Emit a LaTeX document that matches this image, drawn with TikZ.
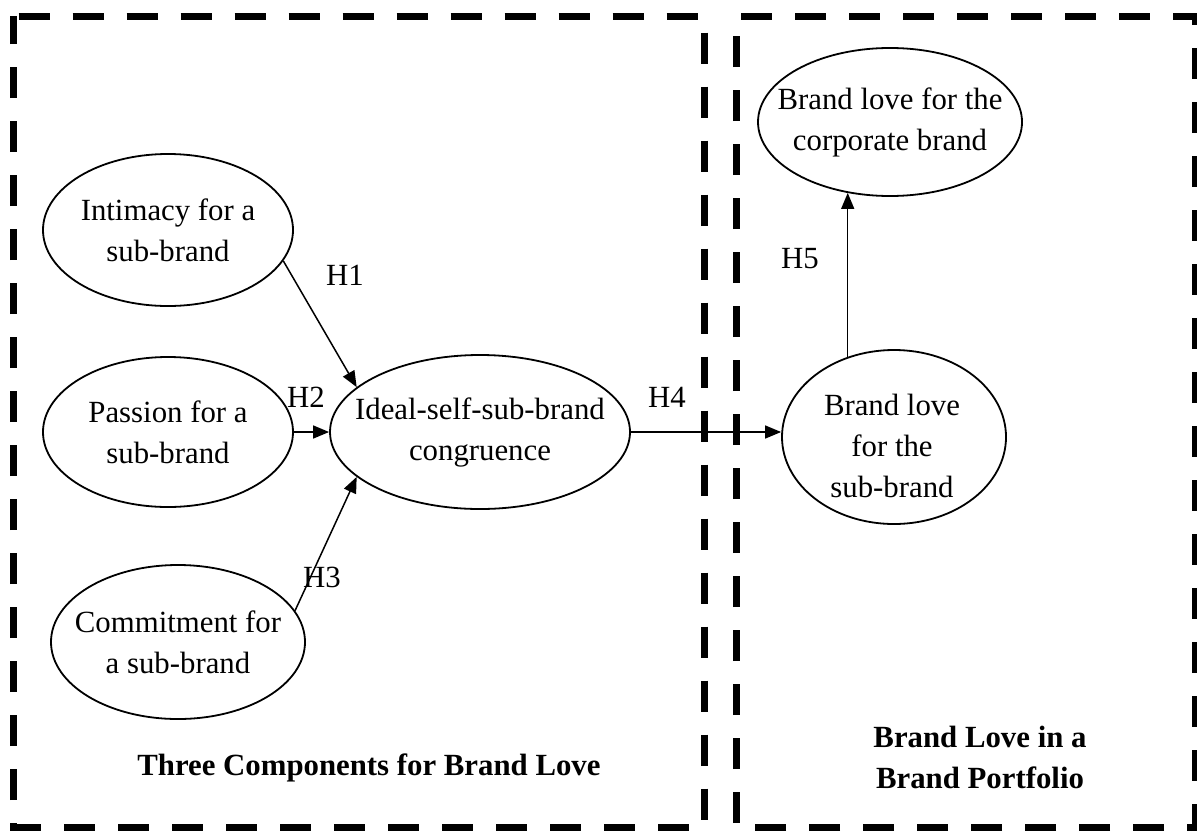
\documentclass[tikz,border=0pt]{standalone}
\usepackage{fontspec}
\setmainfont{Liberation Serif}
\usetikzlibrary{arrows.meta,shapes.geometric}

\begin{document}
\begin{tikzpicture}[
    x=0.5pt, y=-0.5pt,
    >={Triangle[length=8pt,width=6.5pt]},
    bubble/.style={
        ellipse,
        draw,
        line width=0.9pt,
        inner sep=0pt
    },
    bubble text/.style={
        font=\fontsize{15.4}{20.5}\selectfont,
        align=center,
        inner sep=0pt
    },
    hyp/.style={
        font=\fontsize{15.4}{18}\selectfont,
        inner sep=0pt
    },
    panel/.style={
        line width=3.5pt,
        dash pattern=on 15.5pt off 11.5pt,
        dash phase=-2.5pt
    },
    panel title/.style={
        font=\fontsize{15.4}{20.5}\selectfont\bfseries,
        align=center,
        inner sep=0pt
    },
    link/.style={->, line width=0.75pt}
]
\useasboundingbox (0,0) rectangle (1197,830);

% Dashed panels
\draw[panel] (13.5,16) -- (704,16) -- (704,827) -- (13.5,827) -- cycle;
\draw[panel] (736,16) -- (1195,16) -- (1195,827) -- (736,827) -- cycle;

% Ellipses
\node[bubble, minimum width=125pt, minimum height=76pt] (intimacy)   at (168,230) {};
\node[bubble, minimum width=125pt, minimum height=75pt] (passion)    at (168,432) {};
\node[bubble, minimum width=127pt, minimum height=77pt] (commitment) at (178,642) {};
\node[bubble, minimum width=150pt, minimum height=77pt] (ideal)      at (480,432) {};
\node[bubble, minimum width=112pt, minimum height=87pt] (subbrand)   at (894,437) {};
\node[bubble, minimum width=132pt, minimum height=74pt] (corporate)  at (890,122) {};

% Texts inside the ellipses
\node[bubble text] (intimacy text)   at (intimacy)   {Intimacy for a\\sub-brand};
\node[bubble text] (passion text)    at (passion)    {Passion for a\\sub-brand};
\node[bubble text] (commitment text) at (commitment) {Commitment for\\a sub-brand};
\node[bubble text] (ideal text)      at (ideal)      {Ideal-self-sub-brand\\congruence};
\node[bubble text] (subbrand text)   at (892,446)    {Brand love\\for the\\sub-brand};
\node[bubble text] (corporate text)  at (corporate)  {Brand love for the\\corporate brand};

% Arrows
\draw[link] (intimacy.-15)  -- (ideal.160);
\draw[link] (passion)       -- (ideal);
\draw[link] (commitment.15) -- (ideal.200);
\draw[link] (ideal.east)    -- (ideal.east -| subbrand.west);
\draw[link] (subbrand.120)  -- (subbrand.120 |- corporate.239);

% Hypothesis labels
\node[hyp] (h1) at (345,275) {H1};
\node[hyp] (h2) at (306,397) {H2};
\node[hyp] (h3) at (322,577) {H3};
\node[hyp] (h4) at (667,397) {H4};
\node[hyp] (h5) at (800,259) {H5};

% Panel titles
\node[panel title] (left title)  at (369,768) {Three Components for Brand Love};
\node[panel title] (right title) at (980,757) {Brand Love in a\\Brand Portfolio};

\end{tikzpicture}
\end{document}
